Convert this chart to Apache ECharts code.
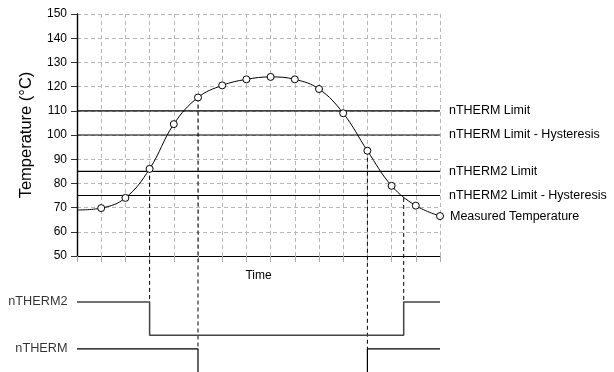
<!DOCTYPE html>
<html>
<head>
<meta charset="utf-8">
<script src="https://cdn.jsdelivr.net/npm/echarts@6/dist/echarts.min.js"></script>
<style>
html,body{margin:0;padding:0;background:#fff;}
#chart{width:614px;height:372px;}
</style>
</head>
<body>
<div id="chart"></div>
<script>
// ---- data ----
const timeSteps = [0,1,2,3,4,5,6,7,8,9,10,11,12,13,14,15];
const temperature = [69, 69.8, 74, 86, 104.5, 115.5, 120.5, 123, 124, 123, 119, 109, 93.5, 79, 70.8, 66.5];
const limitNames = ['nTHERM Limit', 'nTHERM Limit - Hysteresis', 'nTHERM2 Limit', 'nTHERM2 Limit - Hysteresis'];
const limitValues = [110, 100, 85, 75];
const yMin = 50, yMax = 150, yStep = 10;
// digital outputs (levels expressed on the same vertical scale, drawn below the plot)
const signalNames = ['nTHERM2', 'nTHERM'];
const signalHigh = [31, 11.6];
const signalLow = [17.3, -14];
const signalEdges = [[3, 13.5], [5, 12]];
// dashed guides from the curve down to the signal transitions
const guideX = [3, 5, 12, 13.5];
const guideTop = [86, 115.5, 93.5, 74];
const guideSignal = [0, 1, 1, 0];

const FONT = '"Liberation Sans", Arial, Helvetica, sans-serif';
const tEnd = timeSteps[timeSteps.length - 1];

const series = [];

// limit lines
limitNames.forEach((n, i) => {
  series.push({
    type: 'line', name: n, data: [[timeSteps[0], limitValues[i]], [tEnd, limitValues[i]]],
    symbol: 'none', lineStyle: {color: '#000', width: 1.2}, z: 3,
    endLabel: {show: true, formatter: n, distance: 9, color: '#000', fontSize: 12.5, fontFamily: FONT}
  });
});

// measured temperature
series.push({
  type: 'line', name: 'Measured Temperature',
  data: temperature.map((v, i) => ({value: [timeSteps[i], v], symbol: i === 0 ? 'none' : 'circle'})),
  smooth: 0.4, symbol: 'circle', symbolSize: 7, showAllSymbol: true,
  itemStyle: {color: '#fff', borderColor: '#000', borderWidth: 1},
  lineStyle: {color: '#000', width: 1}, z: 5,
  endLabel: {show: true, formatter: 'Measured Temperature', distance: 10, color: '#000', fontSize: 12.5, fontFamily: FONT}
});

// dashed guides
guideX.forEach((x, i) => {
  series.push({
    type: 'line', data: [[x, guideTop[i]], [x, signalHigh[guideSignal[i]]]],
    symbol: 'none', clip: false, z: 2, silent: true,
    lineStyle: {color: '#000', width: 1, type: [4, 3]}
  });
});

// digital signals
signalNames.forEach((n, i) => {
  const e = signalEdges[i], h = signalHigh[i], l = signalLow[i];
  series.push({
    type: 'line', name: n,
    data: [[timeSteps[0], h], [e[0], h], [e[0], l], [e[1], l], [e[1], h], [tEnd, h]],
    symbol: 'none', clip: false, z: 3,
    lineStyle: {color: i === 0 ? '#444' : '#000', width: i === 0 ? 1.5 : 1.2}
  });
});
// signal labels
series.push({
  type: 'scatter', clip: false, symbolSize: 1, itemStyle: {color: 'rgba(0,0,0,0)'},
  data: signalNames.map((n, i) => ({name: n, value: [timeSteps[0], signalHigh[i]]})),
  label: {show: true, position: 'left', distance: 9, formatter: '{b}', color: '#000', fontSize: 12.7, fontFamily: FONT}
});

const chart = echarts.init(document.getElementById('chart'), null, {renderer: 'canvas'});
chart.setOption({
  animation: false,
  backgroundColor: '#fff',
  textStyle: {fontFamily: FONT},
  grid: {left: 77, right: 174, top: 14, bottom: 116, containLabel: false},
  xAxis: {
    type: 'value', min: timeSteps[0], max: tEnd, interval: 1,
    name: 'Time', nameLocation: 'middle', nameGap: 14,
    nameTextStyle: {color: '#000', fontSize: 12, fontFamily: FONT},
    axisLine: {show: true, onZero: false, lineStyle: {color: '#000', width: 1.2}},
    axisTick: {show: true, length: 6, lineStyle: {color: '#aaa'}},
    axisLabel: {show: false},
    splitLine: {show: true, lineStyle: {color: '#b8b8b8', type: [4, 3], width: 1}}
  },
  yAxis: {
    type: 'value', min: yMin, max: yMax, interval: yStep,
    name: 'Temperature (°C)', nameLocation: 'middle', nameGap: 42, nameRotate: 90,
    nameTextStyle: {color: '#000', fontSize: 16.5, fontFamily: FONT},
    axisLine: {show: true, lineStyle: {color: '#000', width: 1.4}},
    axisTick: {show: true, length: 6, lineStyle: {color: '#333'}},
    axisLabel: {color: '#000', fontSize: 12, margin: 10, fontFamily: FONT},
    splitLine: {show: true, lineStyle: {color: '#b8b8b8', type: [4, 3], width: 1}}
  },
  series: series
});
</script>
</body>
</html>
